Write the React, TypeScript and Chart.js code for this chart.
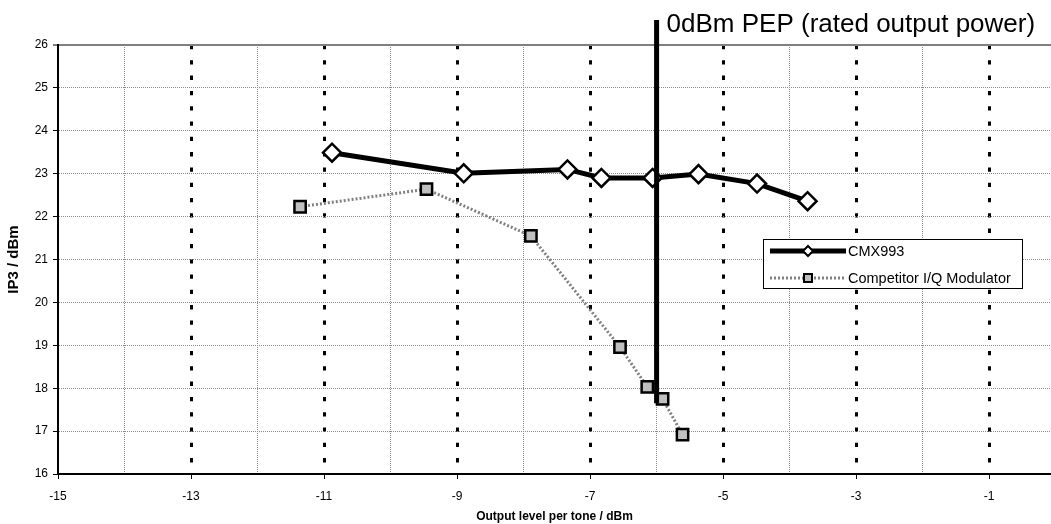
import React, { useEffect, useRef } from 'react';
import { Chart, registerables } from 'chart.js';

Chart.register(...registerables);

// ---- data ----
const seriesNames = ['CMX993', 'Competitor I/Q Modulator'];
const cmxX = [-10.88, -8.9, -7.34, -6.83, -6.06, -5.37, -4.49, -3.73];
const cmxY = [23.49, 23.01, 23.1, 22.9, 22.9, 22.99, 22.77, 22.36];
const compX = [-11.36, -9.46, -7.89, -6.55, -6.14, -5.91, -5.61];
const compY = [22.23, 22.64, 21.55, 18.96, 18.03, 17.75, 16.92];
const markerX = [-6, -6];
const markerY = [17.65, 26.58];
const markerLabel = '0dBm PEP (rated output power)';
const xTitle = 'Output level per tone / dBm';
const yTitle = 'IP3 / dBm';
const xMin = -15;
const xMax = -0.07;
const yMin = 16;
const yMax = 26;

const FONT = '"Liberation Sans", Arial, Helvetica, sans-serif';

const isInt = (v: number) => Math.abs(v - Math.round(v)) < 1e-6;
const isOdd = (v: number) => isInt(v) && Math.abs(Math.round(v)) % 2 === 1;

const overlayPlugin = {
  id: 'overlay',
  afterDraw(chart: any) {
    const { ctx, scales } = chart;
    const x = scales.x;
    const y = scales.y;
    ctx.save();
    // marker label
    ctx.font = `26px ${FONT}`;
    ctx.fillStyle = '#000';
    ctx.textAlign = 'left';
    ctx.textBaseline = 'alphabetic';
    ctx.fillText(markerLabel, x.getPixelForValue(markerX[0]) + 10, y.getPixelForValue(markerY[1]) + 12);

    // legend
    const bx = 763.5, by = 239.5, bw = 259, bh = 49;
    ctx.fillStyle = '#fff';
    ctx.fillRect(bx, by, bw, bh);
    ctx.strokeStyle = '#000';
    ctx.lineWidth = 1;
    ctx.setLineDash([]);
    ctx.strokeRect(bx, by, bw, bh);

    const lx1 = 770, lx2 = 846, mx = 808;
    const r1 = 251, r2 = 278;
    // row 1
    ctx.beginPath();
    ctx.strokeStyle = '#000';
    ctx.lineWidth = 5;
    ctx.moveTo(lx1, r1);
    ctx.lineTo(lx2, r1);
    ctx.stroke();
    ctx.beginPath();
    ctx.moveTo(mx, r1 - 5);
    ctx.lineTo(mx + 5, r1);
    ctx.lineTo(mx, r1 + 5);
    ctx.lineTo(mx - 5, r1);
    ctx.closePath();
    ctx.fillStyle = '#fff';
    ctx.fill();
    ctx.lineWidth = 2;
    ctx.stroke();
    // row 2
    ctx.beginPath();
    ctx.strokeStyle = '#808080';
    ctx.lineWidth = 3;
    ctx.setLineDash([2, 2]);
    ctx.moveTo(lx1, r2);
    ctx.lineTo(lx2, r2);
    ctx.stroke();
    ctx.setLineDash([]);
    ctx.fillStyle = '#c0c0c0';
    ctx.fillRect(mx - 4, r2 - 4, 8, 8);
    ctx.strokeStyle = '#000';
    ctx.lineWidth = 2;
    ctx.strokeRect(mx - 4, r2 - 4, 8, 8);

    ctx.fillStyle = '#000';
    ctx.font = `14.5px ${FONT}`;
    ctx.textBaseline = 'middle';
    ctx.fillText(seriesNames[0], 848, r1 + 1);
    ctx.fillText(seriesNames[1], 848, r2 + 1);
    ctx.restore();
  },
};

export default function App() {
  const ref = useRef<HTMLCanvasElement | null>(null);
  useEffect(() => {
    if (!ref.current) return;
    const chart = new Chart(ref.current, {
      type: 'scatter',
      data: {
        datasets: [
          {
            label: 'marker',
            data: markerX.map((v, i) => ({ x: v, y: markerY[i] })),
            showLine: true,
            borderColor: '#000',
            borderWidth: 5,
            pointRadius: 0,
            clip: false as any,
            order: 0,
          },
          {
            label: seriesNames[0],
            data: cmxX.map((v, i) => ({ x: v, y: cmxY[i] })),
            showLine: true,
            borderColor: '#000',
            borderWidth: 5,
            tension: 0,
            pointStyle: 'rectRot',
            pointRadius: 9,
            pointBackgroundColor: '#fff',
            pointBorderColor: '#000',
            pointBorderWidth: 2.5,
            order: 1,
          },
          {
            label: seriesNames[1],
            data: compX.map((v, i) => ({ x: v, y: compY[i] })),
            showLine: true,
            borderColor: '#808080',
            borderWidth: 3,
            borderDash: [2, 2],
            tension: 0,
            pointStyle: 'rect',
            pointRadius: 8,
            pointBackgroundColor: '#c0c0c0',
            pointBorderColor: '#000',
            pointBorderWidth: 2.5,
            order: 2,
          },
        ],
      },
      options: {
        animation: false,
        responsive: false,
        events: [],
        layout: { autoPadding: false, padding: { top: 45, left: 0, right: 0, bottom: 0 } },
        plugins: {
          legend: { display: false },
          tooltip: { enabled: false },
        },
        scales: {
          x: {
            type: 'linear',
            min: xMin,
            max: xMax,
            afterFit: (s: any) => {
              s.height = 50;
              s.paddingLeft = 0;
              s.paddingRight = 0;
            },
            ticks: {
              stepSize: 1,
              includeBounds: false,
              autoSkip: false,
              maxRotation: 0,
              padding: 10,
              color: '#000',
              font: { family: FONT, size: 12 },
              callback: (v: any) => (isOdd(Number(v)) ? String(v) : ''),
            },
            grid: {
              color: (c: any) => {
                const v = c.tick ? c.tick.value : 0;
                if (v === xMin) return 'rgba(0,0,0,0)';
                return isOdd(v) ? '#000' : '#8a8a8a';
              },
              lineWidth: (c: any) => (c.tick && isOdd(c.tick.value) ? 3 : 1),
              tickColor: (c: any) => (c.tick && isOdd(c.tick.value) ? '#000' : 'rgba(0,0,0,0)'),
              tickLength: 5,
              tickWidth: 1,
            },
            border: {
              color: '#000',
              width: 2,
              dash: (c: any) => (c.tick && isOdd(c.tick.value) ? [4.3, 11] : [1, 1]),
            },
            title: {
              display: true,
              text: xTitle,
              color: '#000',
              font: { family: FONT, size: 12, weight: 'bold' },
              padding: { top: 0, bottom: 0 },
            },
          },
          y: {
            type: 'linear',
            min: yMin,
            max: yMax,
            afterFit: (s: any) => {
              s.width = 58;
            },
            ticks: {
              stepSize: 1,
              padding: 5,
              color: '#000',
              font: { family: FONT, size: 12 },
            },
            grid: {
              color: (c: any) => (c.tick && c.tick.value === yMax ? '#808080' : '#8a8a8a'),
              lineWidth: (c: any) => (c.tick && c.tick.value === yMax ? 2 : 1),
              tickColor: '#000',
              tickLength: 5,
              tickWidth: 1,
            },
            border: {
              color: '#000',
              width: 2,
              dash: (c: any) => (c.tick && c.tick.value === yMax ? [] : [1, 1]),
            },
            title: {
              display: true,
              text: yTitle,
              color: '#000',
              font: { family: FONT, size: 15, weight: 'bold' },
              padding: { top: 5, bottom: 0 },
            },
          },
        },
      },
      plugins: [overlayPlugin],
    } as any);
    return () => chart.destroy();
  }, []);
  return (
    <div style={{ position: 'fixed', left: 0, top: 0, width: 1051, height: 524, background: '#fff' }}>
      <canvas ref={ref} width={1051} height={524} style={{ display: 'block', width: 1051, height: 524 }} />
    </div>
  );
}
